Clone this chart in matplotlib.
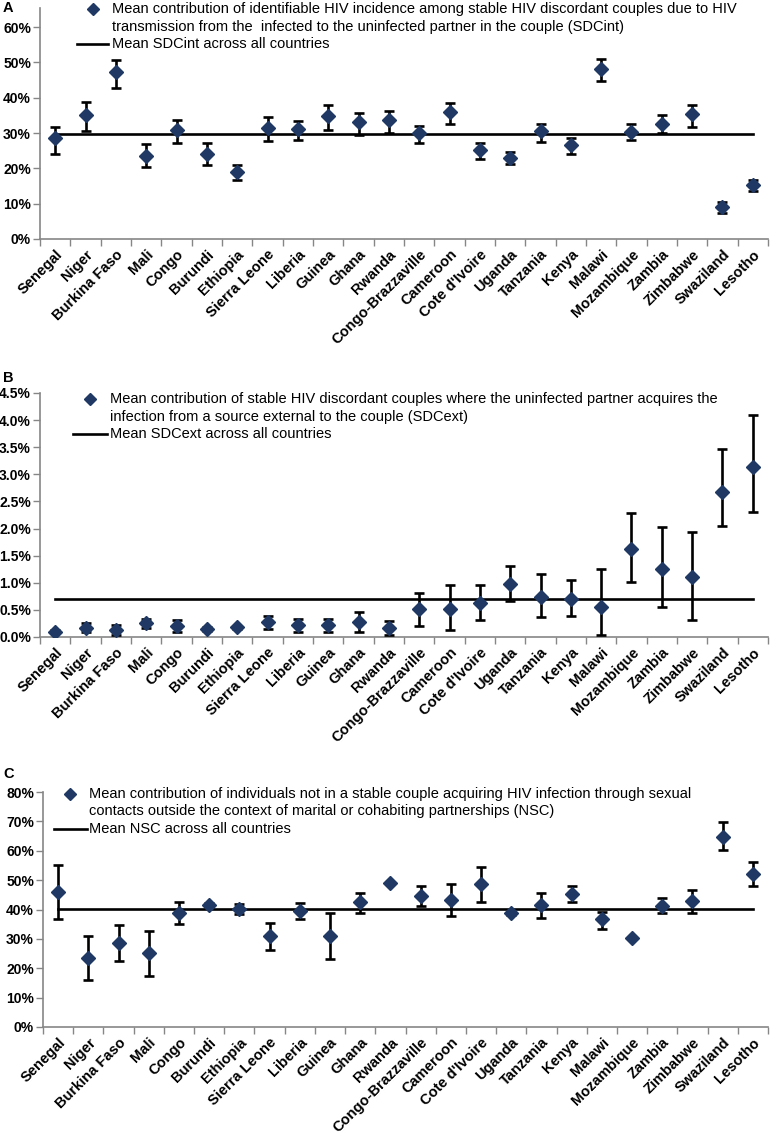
import matplotlib
matplotlib.use('Agg')
import matplotlib.pyplot as plt
from matplotlib.lines import Line2D
from matplotlib.ticker import FuncFormatter
import numpy as np

plt.rcParams['font.family'] = ['Liberation Sans', 'DejaVu Sans']

countries = ['Senegal', 'Niger', 'Burkina Faso', 'Mali', 'Congo', 'Burundi', 'Ethiopia',
             'Sierra Leone', 'Liberia', 'Guinea', 'Ghana', 'Rwanda', 'Congo-Brazzaville',
             'Cameroon', "Cote d'Ivoire", 'Uganda', 'Tanzania', 'Kenya', 'Malawi',
             'Mozambique', 'Zambia', 'Zimbabwe', 'Swaziland', 'Lesotho']

# panel A - SDCint (%)
sdcint = [28.5, 35.1, 47.2, 23.5, 31.0, 24.2, 19.0, 31.5, 31.1, 34.8, 33.0, 33.6,
          30.1, 36.0, 25.2, 22.8, 30.7, 26.5, 48.0, 30.2, 32.7, 35.4, 9.2, 15.2]
sdcint_lo = [24.2, 30.5, 42.8, 20.3, 27.3, 20.9, 16.7, 27.8, 27.9, 30.8, 29.4, 29.9,
             27.3, 32.7, 22.7, 21.1, 27.6, 24.1, 44.7, 28.1, 29.9, 31.8, 7.5, 13.6]
sdcint_hi = [31.8, 38.9, 50.7, 26.8, 33.7, 27.1, 20.9, 34.6, 33.5, 37.9, 35.6, 36.2,
             32.0, 38.4, 27.3, 24.7, 32.5, 28.7, 51.1, 32.5, 35.0, 37.8, 10.6, 16.7]
sdcint_mean = 29.8

# panel B - SDCext (%)
sdcext = [0.10, 0.17, 0.12, 0.25, 0.20, 0.15, 0.18, 0.27, 0.22, 0.22, 0.28, 0.16,
          0.51, 0.52, 0.63, 0.97, 0.74, 0.71, 0.55, 1.62, 1.25, 1.11, 2.68, 3.13]
sdcext_lo = [0.07, 0.09, 0.03, 0.17, 0.09, 0.11, 0.14, 0.14, 0.10, 0.10, 0.09, 0.03,
             0.20, 0.12, 0.31, 0.67, 0.36, 0.38, 0.04, 1.02, 0.55, 0.31, 2.04, 2.30]
sdcext_hi = [0.12, 0.26, 0.22, 0.34, 0.32, 0.19, 0.21, 0.39, 0.34, 0.33, 0.46, 0.29,
             0.81, 0.95, 0.95, 1.31, 1.16, 1.06, 1.26, 2.29, 2.02, 1.94, 3.47, 4.09]
sdcext_mean = 0.70

# panel C - NSC (%)
nsc = [45.9, 23.6, 28.7, 25.1, 38.7, 41.5, 40.2, 31.0, 39.5, 31.0, 42.5, 48.9,
       44.7, 43.1, 48.6, 38.7, 41.5, 45.3, 36.8, 30.4, 41.3, 42.9, 64.8, 52.1]
nsc_lo = [36.8, 16.0, 22.5, 17.5, 35.0, 40.8, 38.4, 26.2, 36.8, 23.3, 38.9, 48.9,
          41.3, 37.9, 42.7, 38.1, 37.0, 42.5, 33.4, 30.4, 38.9, 38.9, 60.3, 48.1]
nsc_hi = [55.2, 31.1, 34.7, 32.7, 42.5, 42.2, 42.0, 35.5, 42.1, 38.9, 45.7, 48.9,
          48.1, 48.6, 54.4, 39.3, 45.7, 48.1, 39.3, 30.4, 43.8, 46.7, 69.7, 56.3]
nsc_mean = 40.2

W, H = 771, 1135
navy = '#1f3864'
grey = '#868686'

fig = plt.figure(figsize=(W / 100, H / 100), dpi=100)


def fx(px):
    return px / W


def fy(py):
    return 1 - py / H


def panel(top, bottom, left, vals, lo, hi, mean, ymax, step, nticks, fmt):
    ax = fig.add_axes([fx(left), fy(bottom), fx(768 - left), (bottom - top) / H])
    x = np.arange(len(countries))
    vals = np.array(vals)
    yerr = [vals - np.array(lo), np.array(hi) - vals]
    ax.plot(x, [mean] * len(x), color='black', lw=1.9, zorder=2)
    ax.errorbar(x, vals, yerr=yerr, fmt='none', ecolor='black', elinewidth=1.9,
                capsize=3.8, capthick=1.9, zorder=3)
    ax.plot(x, vals, 'D', color=navy, ms=7, zorder=4)
    ax.set_xlim(-0.5, len(x) - 0.5)
    ax.set_ylim(0, ymax)
    ax.set_yticks([i * step for i in range(nticks)])
    ax.yaxis.set_major_formatter(FuncFormatter(fmt))
    ax.set_xticks(x)
    ax.set_xticklabels(countries, rotation=45, ha='right', va='top',
                       rotation_mode='anchor', fontweight='bold', fontsize=10.5)
    ax.set_xticks(np.arange(-0.5, len(x), 1), minor=True)
    ax.tick_params(axis='x', which='major', length=0, pad=6)
    ax.tick_params(axis='x', which='minor', length=5, width=1, color=grey, direction='out')
    ax.tick_params(axis='y', length=5, width=1, color=grey, labelsize=10, pad=1.5)
    for lab in ax.get_yticklabels():
        lab.set_fontweight('bold')
    for s in ['top', 'right']:
        ax.spines[s].set_visible(False)
    for s in ['left', 'bottom']:
        ax.spines[s].set_color(grey)
        ax.spines[s].set_linewidth(1.2)
    return ax


def legend(mx, my, lx0, lx1, tx, lines, mean_text):
    fig.add_artist(Line2D([fx(mx)], [fy(my)], marker='D', color=navy, ms=6,
                          transform=fig.transFigure))
    for i, t in enumerate(lines):
        fig.text(fx(tx), fy(my + 17.5 * i), t, fontsize=10.5, va='center', ha='left')
    ly = my + 17.5 * len(lines)
    fig.add_artist(Line2D([fx(lx0), fx(lx1)], [fy(ly), fy(ly)], color='black', lw=1.9,
                          transform=fig.transFigure))
    fig.text(fx(tx), fy(ly), mean_text, fontsize=10.5, va='center', ha='left')


pct0 = lambda v, p: '%d%%' % round(v)
pct1 = lambda v, p: '%.1f%%' % v

panel(8, 239, 40, sdcint, sdcint_lo, sdcint_hi, sdcint_mean, 65.4, 10, 7, pct0)
panel(393, 637, 40, sdcext, sdcext_lo, sdcext_hi, sdcext_mean, 4.5, 0.5, 10, pct1)
panel(792, 1027, 43, nsc, nsc_lo, nsc_hi, nsc_mean, 80, 10, 9, pct0)

legend(93, 9, 77, 108, 112,
       ['Mean contribution of identifiable HIV incidence among stable HIV discordant couples due to HIV',
        'transmission from the  infected to the uninfected partner in the couple (SDCint)'],
       'Mean SDCint across all countries')
legend(90, 399, 73, 107, 110,
       ['Mean contribution of stable HIV discordant couples where the uninfected partner acquires the',
        'infection from a source external to the couple (SDCext)'],
       'Mean SDCext across all countries')
legend(70, 794, 54, 87, 89,
       ['Mean contribution of individuals not in a stable couple acquiring HIV infection through sexual',
        'contacts outside the context of marital or cohabiting partnerships (NSC)'],
       'Mean NSC across all countries')

for letter, py in [('A', 8), ('B', 378), ('C', 774)]:
    fig.text(fx(3), fy(py), letter, fontsize=10.5, fontweight='bold', va='center', ha='left')

fig.savefig('out.png', dpi=100)
